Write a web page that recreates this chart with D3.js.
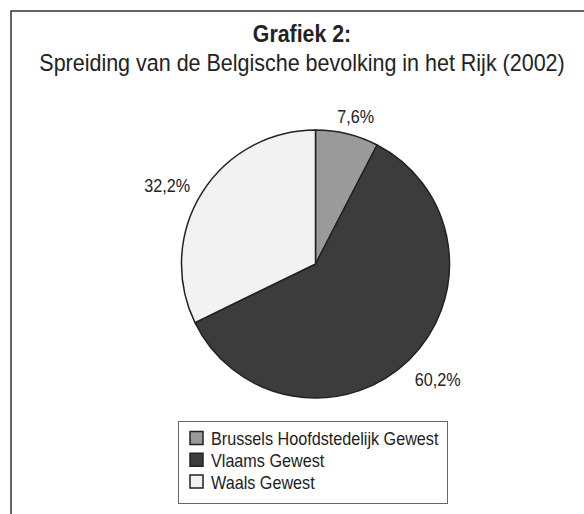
<!DOCTYPE html>
<html>
<head>
<meta charset="utf-8">
<script src="https://cdn.jsdelivr.net/npm/d3@7"></script>
<style>
  html, body { margin: 0; padding: 0; background: #fff; }
  svg { display: block; }
  text { font-family: "Liberation Sans", Arial, Helvetica, sans-serif; fill: #222; }
</style>
</head>
<body>
<svg id="chart" width="584" height="514"></svg>
<script>
const categories = ["Brussels Hoofdstedelijk Gewest", "Vlaams Gewest", "Waals Gewest"];
const values = [7.6, 60.2, 32.2];
const valueLabels = ["7,6%", "60,2%", "32,2%"];
const colors = ["#9a9a9a", "#3c3c3c", "#f2f2f2"];
const titleText = "Grafiek 2:";
const subtitleText = "Spreiding van de Belgische bevolking in het Rijk (2002)";

const W = 584, H = 514;
const squeeze = 0.87;
const svg = d3.select("#chart");

svg.append("rect").attr("width", W).attr("height", H).attr("fill", "#fff");

// frame (extends beyond the right/bottom edge)
svg.append("rect")
  .attr("x", 11).attr("y", 11).attr("width", 700).attr("height", 700)
  .attr("fill", "none").attr("stroke", "#333").attr("stroke-width", 1.5);

function sText(x, y, str, size, weight, anchor) {
  const g = svg.append("g").attr("transform", `translate(${x},${y}) scale(${squeeze},1)`);
  return g.append("text")
    .attr("x", 0).attr("y", 0)
    .attr("font-size", size)
    .attr("font-weight", weight || "normal")
    .attr("text-anchor", anchor || "start")
    .text(str);
}

// titles
sText(302, 42, titleText, 24.5, "bold", "middle");
sText(302, 71, subtitleText, 24.7, "normal", "middle");

// pie
const cx = 315.5, cy = 264, R = 134;
const pie = d3.pie().sort(null).value(d => d).startAngle(0).endAngle(2 * Math.PI);
const arcs = pie(values);
const arc = d3.arc().innerRadius(0).outerRadius(R);

const pg = svg.append("g").attr("transform", `translate(${cx},${cy})`);
pg.selectAll("path.slice")
  .data(arcs)
  .join("path")
  .attr("class", "slice")
  .attr("d", arc)
  .attr("fill", (d, i) => colors[i])
  .attr("stroke", "#222")
  .attr("stroke-width", 1.5)
  .attr("stroke-linejoin", "round");

// labels placed outside the slice, Excel-like
const labelSize = 18.6;
const gap = 14;
arcs.forEach((d, i) => {
  const a = (d.startAngle + d.endAngle) / 2;
  const s = Math.sin(a), c = Math.cos(a);
  const tmp = svg.append("text").attr("font-size", labelSize).text(valueLabels[i]);
  const w = tmp.node().getComputedTextLength() * squeeze + 8;
  tmp.remove();
  const h = 16;
  const px = cx + (R + gap) * s + s * w / 2;
  const py = cy - (R + gap) * c - c * h / 2;
  sText(px, py + labelSize * 0.35 + 4, valueLabels[i], labelSize, "normal", "middle");
});

// legend
const lx = 178.5, ly = 421.5, lw = 269, lh = 82;
svg.append("rect")
  .attr("x", lx).attr("y", ly).attr("width", lw).attr("height", lh)
  .attr("fill", "#fff").attr("stroke", "#666").attr("stroke-width", 1);

const rowY = d3.scalePoint().domain(categories).range([438, 481.5]);
categories.forEach((cat, i) => {
  const y = rowY(cat);
  svg.append("rect")
    .attr("x", 190).attr("y", y - 6.5).attr("width", 13).attr("height", 13)
    .attr("fill", colors[i]).attr("stroke", "#222").attr("stroke-width", 1.5);
  sText(211, y + 7, cat, 18.6, "normal", "start");
});
</script>
</body>
</html>
